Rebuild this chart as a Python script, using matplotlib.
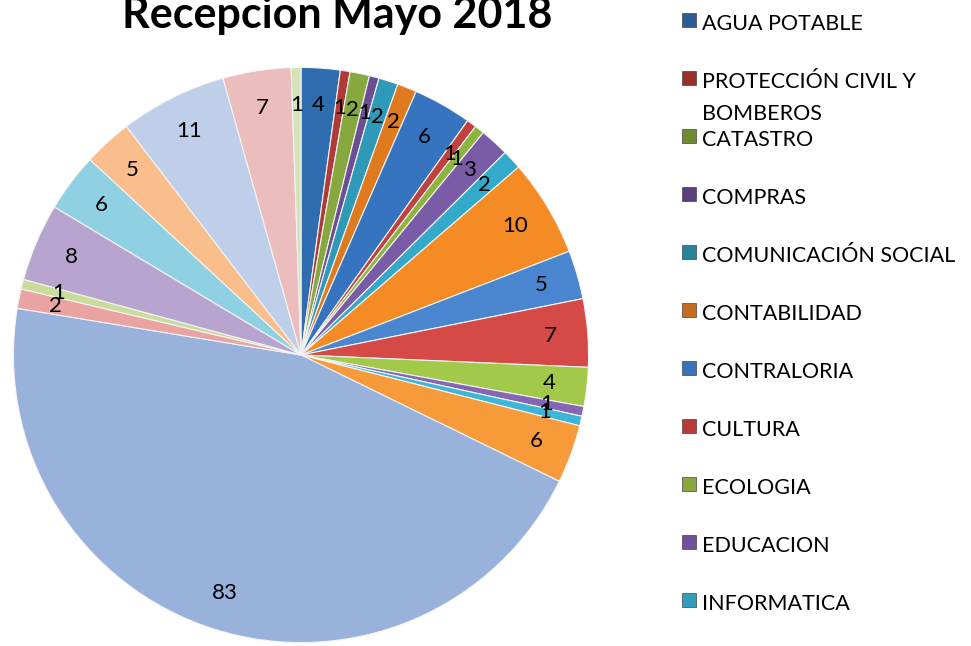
import matplotlib
matplotlib.use("Agg")
import matplotlib.pyplot as plt
from matplotlib.patches import Rectangle

# slice values, clockwise from 12 o'clock
values = [4, 1, 2, 1, 2, 2, 6, 1, 1, 3, 2, 10, 5, 7, 4, 1, 1, 6,
          83, 2, 1, 8, 6, 5, 11, 7, 1]
colors = ['#2F6CB0', '#B03A38', '#86A83E', '#6B4E94', '#2E9AB8', '#E07A1F',
          '#3674C0', '#C0413E', '#8DB43E', '#7A5BA6', '#34AACB', '#F58B25',
          '#4A86D0', '#D54A47', '#A3C94B', '#8466B3', '#3DB6D6', '#F79A3A',
          '#98B2DC', '#E8A3A2', '#C9DC9A', '#B7A5CF', '#8FD0E2', '#F9BE8C',
          '#BFCFEA', '#ECBDBD', '#D5E3B8']

# legend (only the visible part of it)
legend_names = ['AGUA POTABLE', 'PROTECCIÓN CIVIL Y\nBOMBEROS', 'CATASTRO',
                'COMPRAS', 'COMUNICACIÓN SOCIAL', 'CONTABILIDAD',
                'CONTRALORIA', 'CULTURA', 'ECOLOGIA', 'EDUCACION',
                'INFORMATICA']
legend_colors = ['#2A5C96', '#9A2F2D', '#6F8C30', '#5A407F', '#28849E',
                 '#C66A1C', '#3A73BA', '#B83B38', '#86A83E', '#6F529B',
                 '#2F9EBD']

W, H = 971, 646
fig = plt.figure(figsize=(W / 100, H / 100), dpi=100)
plt.rcParams['font.family'] = ['Lato', 'DejaVu Sans']

# pie centre (301, 355) px, radius 289 px
cx, cy, r = 301, 355, 289
ax = fig.add_axes([(cx - r) / W, (H - cy - r) / H, 2 * r / W, 2 * r / H])
total = sum(values)
wedges, texts, autotexts = ax.pie(
    values, colors=colors, startangle=90, counterclock=False,
    radius=1.0, pctdistance=0.87,
    autopct=lambda p: '%d' % round(p * total / 100),
    wedgeprops=dict(edgecolor='#F4F4F4', linewidth=0.8),
    textprops=dict(fontsize=16, color='black'))
ax.set_xlim(-1.005, 1.005)
ax.set_ylim(-1.005, 1.005)
ax.set_aspect('equal')
ax.axis('off')

# title, partly cut off at the top like in the original
fig.text(337 / W, 1 - 28 / H, 'Recepcion Mayo 2018', ha='center',
         va='baseline', fontsize=31, fontweight='bold')

# hand-placed legend
for i, (name, col) in enumerate(zip(legend_names, legend_colors)):
    top = 13 + 58 * i
    fig.patches.append(Rectangle((682 / W, 1 - (top + 14) / H), 14 / W, 14 / H,
                                 transform=fig.transFigure, facecolor=col,
                                 edgecolor='#444444', linewidth=0.5))
    for j, line in enumerate(name.split('\n')):
        base = 30 + 58 * i + 32 * j
        fig.text(702 / W, 1 - base / H, line, ha='left', va='baseline',
                 fontsize=15.5)

fig.savefig('out.png', dpi=100)
